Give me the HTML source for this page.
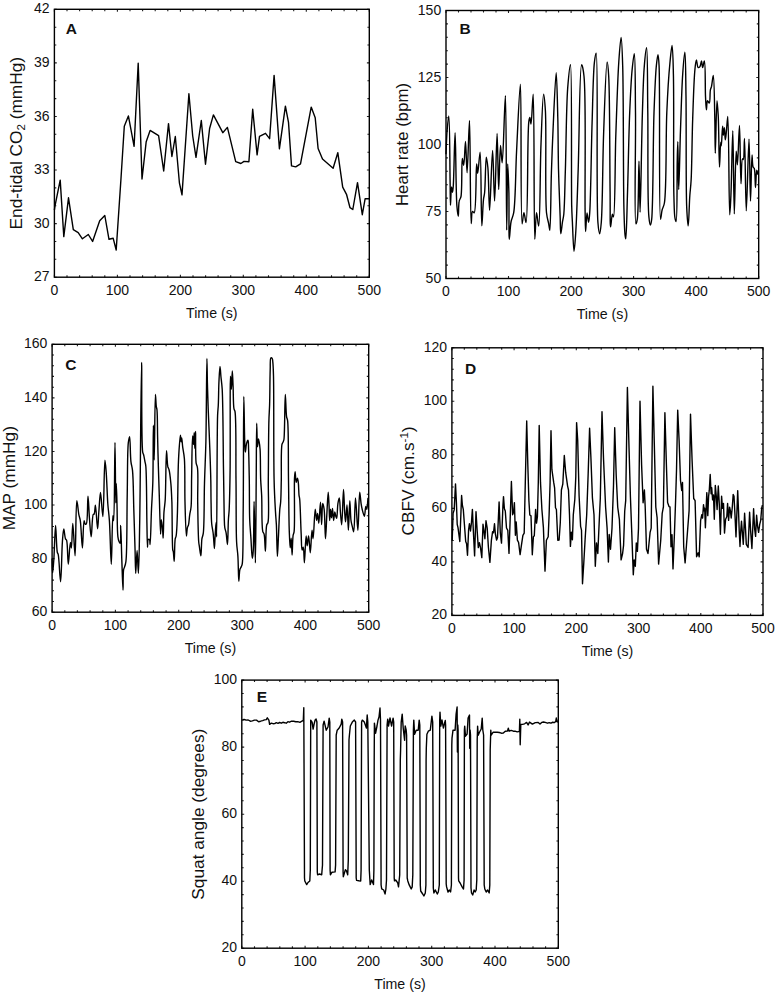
<!DOCTYPE html><html><head><meta charset="utf-8"><style>html,body{margin:0;padding:0;background:#fff;overflow:hidden;}svg{display:block;}text{font-family:"Liberation Sans",sans-serif;fill:#111;}</style></head><body>
<svg width="775" height="994" viewBox="0 0 775 994">
<rect width="775" height="994" fill="#fff"/>
<g><path d="M54.4 277.2v-2.4M54.4 9.3v2.4M67 277.2v-1.9M67 9.3v1.9M79.6 277.2v-1.9M79.6 9.3v1.9M92.2 277.2v-1.9M92.2 9.3v1.9M104.8 277.2v-1.9M104.8 9.3v1.9M117.4 277.2v-2.4M117.4 9.3v2.4M130 277.2v-1.9M130 9.3v1.9M142.6 277.2v-1.9M142.6 9.3v1.9M155.2 277.2v-1.9M155.2 9.3v1.9M167.8 277.2v-1.9M167.8 9.3v1.9M180.4 277.2v-2.4M180.4 9.3v2.4M193 277.2v-1.9M193 9.3v1.9M205.6 277.2v-1.9M205.6 9.3v1.9M218.1 277.2v-1.9M218.1 9.3v1.9M230.7 277.2v-1.9M230.7 9.3v1.9M243.3 277.2v-2.4M243.3 9.3v2.4M255.9 277.2v-1.9M255.9 9.3v1.9M268.5 277.2v-1.9M268.5 9.3v1.9M281.1 277.2v-1.9M281.1 9.3v1.9M293.7 277.2v-1.9M293.7 9.3v1.9M306.3 277.2v-2.4M306.3 9.3v2.4M318.9 277.2v-1.9M318.9 9.3v1.9M331.5 277.2v-1.9M331.5 9.3v1.9M344.1 277.2v-1.9M344.1 9.3v1.9M356.7 277.2v-1.9M356.7 9.3v1.9M369.3 277.2v-2.4M369.3 9.3v2.4M54.4 277.2h2.4M369.3 277.2h-2.4M54.4 259.3h1.9M369.3 259.3h-1.9M54.4 241.5h1.9M369.3 241.5h-1.9M54.4 223.6h2.4M369.3 223.6h-2.4M54.4 205.8h1.9M369.3 205.8h-1.9M54.4 187.9h1.9M369.3 187.9h-1.9M54.4 170h2.4M369.3 170h-2.4M54.4 152.2h1.9M369.3 152.2h-1.9M54.4 134.3h1.9M369.3 134.3h-1.9M54.4 116.5h2.4M369.3 116.5h-2.4M54.4 98.6h1.9M369.3 98.6h-1.9M54.4 80.7h1.9M369.3 80.7h-1.9M54.4 62.9h2.4M369.3 62.9h-2.4M54.4 45h1.9M369.3 45h-1.9M54.4 27.2h1.9M369.3 27.2h-1.9M54.4 9.3h2.4M369.3 9.3h-2.4" stroke="#222" stroke-width="1.1" fill="none"/><path d="M54.4,210.2 55,205.8 60.2,180.1 63.8,236.6 68.5,197.8 73.3,229.7 78.2,232.6 82.4,238.8 88.3,234.5 92.6,241.4 99.7,220.7 104.8,215.5 109,239.3 113.2,238.3 116.2,250 121,178.4 124.3,126.2 128.4,115.9 134.1,146.3 138.2,63.3 142,179 146.2,141.7 150.1,130.4 158.6,135.7 163.7,171 168.5,123.6 171.9,156.5 175.3,136.5 179.4,182.8 182,194.9 188.9,93.8 192.7,136 196,157.4 201.3,120.5 205.5,164.2 209.6,128.5 213.4,114.9 222.8,132.7 227.4,127.4 235.7,161.7 240.9,163.5 244,161.4 248.9,161.7 252.7,109.2 257.1,154.9 259.5,136.3 265.5,133.3 269.6,138.7 274.1,75.4 279.4,148.8 285.4,106.1 288.5,122.4 291.5,165.9 295.7,166.9 300.5,163.9 311.2,107.1 315.2,117.7 318.1,148.5 322.5,159 333.1,168.2 337.8,152.7 342.7,187.2 346.5,194.3 350,207.7 352.8,209.5 357.5,182.7 362.3,214.7 365.1,198.8 369,198.8" stroke="#000" stroke-width="1.4" fill="none" stroke-linejoin="round"/><rect x="54.4" y="9.3" width="314.9" height="267.9" fill="none" stroke="#000" stroke-width="1.4"/><text x="54.4" y="294.5" font-size="14" text-anchor="middle">0</text><text x="117.4" y="294.5" font-size="14" text-anchor="middle">100</text><text x="180.4" y="294.5" font-size="14" text-anchor="middle">200</text><text x="243.3" y="294.5" font-size="14" text-anchor="middle">300</text><text x="306.3" y="294.5" font-size="14" text-anchor="middle">400</text><text x="369.3" y="294.5" font-size="14" text-anchor="middle">500</text><text x="49.6" y="281.2" font-size="14" text-anchor="end">27</text><text x="49.6" y="227.6" font-size="14" text-anchor="end">30</text><text x="49.6" y="174" font-size="14" text-anchor="end">33</text><text x="49.6" y="120.5" font-size="14" text-anchor="end">36</text><text x="49.6" y="66.9" font-size="14" text-anchor="end">39</text><text x="49.6" y="13.3" font-size="14" text-anchor="end">42</text><text x="211.8" y="318.1" font-size="14.2" text-anchor="middle">Time (s)</text><text transform="translate(21.7 143.2) rotate(-90)" font-size="17.3" text-anchor="middle">End-tidal CO<tspan baseline-shift="-25%" font-size="11.5">2</tspan> (mmHg)</text><text x="65.7" y="34.4" font-size="15.5" font-weight="bold">A</text></g>
<g><path d="M446 278.5v-2.4M446 10.5v2.4M458.5 278.5v-1.9M458.5 10.5v1.9M471 278.5v-1.9M471 10.5v1.9M483.5 278.5v-1.9M483.5 10.5v1.9M496 278.5v-1.9M496 10.5v1.9M508.5 278.5v-2.4M508.5 10.5v2.4M521 278.5v-1.9M521 10.5v1.9M533.6 278.5v-1.9M533.6 10.5v1.9M546.1 278.5v-1.9M546.1 10.5v1.9M558.6 278.5v-1.9M558.6 10.5v1.9M571.1 278.5v-2.4M571.1 10.5v2.4M583.6 278.5v-1.9M583.6 10.5v1.9M596.1 278.5v-1.9M596.1 10.5v1.9M608.6 278.5v-1.9M608.6 10.5v1.9M621.1 278.5v-1.9M621.1 10.5v1.9M633.6 278.5v-2.4M633.6 10.5v2.4M646.1 278.5v-1.9M646.1 10.5v1.9M658.6 278.5v-1.9M658.6 10.5v1.9M671.1 278.5v-1.9M671.1 10.5v1.9M683.7 278.5v-1.9M683.7 10.5v1.9M696.2 278.5v-2.4M696.2 10.5v2.4M708.7 278.5v-1.9M708.7 10.5v1.9M721.2 278.5v-1.9M721.2 10.5v1.9M733.7 278.5v-1.9M733.7 10.5v1.9M746.2 278.5v-1.9M746.2 10.5v1.9M758.7 278.5v-2.4M758.7 10.5v2.4M446 278.5h2.4M758.7 278.5h-2.4M446 265.1h1.9M758.7 265.1h-1.9M446 251.7h1.9M758.7 251.7h-1.9M446 238.3h1.9M758.7 238.3h-1.9M446 224.9h1.9M758.7 224.9h-1.9M446 211.5h2.4M758.7 211.5h-2.4M446 198.1h1.9M758.7 198.1h-1.9M446 184.7h1.9M758.7 184.7h-1.9M446 171.3h1.9M758.7 171.3h-1.9M446 157.9h1.9M758.7 157.9h-1.9M446 144.5h2.4M758.7 144.5h-2.4M446 131.1h1.9M758.7 131.1h-1.9M446 117.7h1.9M758.7 117.7h-1.9M446 104.3h1.9M758.7 104.3h-1.9M446 90.9h1.9M758.7 90.9h-1.9M446 77.5h2.4M758.7 77.5h-2.4M446 64.1h1.9M758.7 64.1h-1.9M446 50.7h1.9M758.7 50.7h-1.9M446 37.3h1.9M758.7 37.3h-1.9M446 23.9h1.9M758.7 23.9h-1.9M446 10.5h2.4M758.7 10.5h-2.4" stroke="#222" stroke-width="1.1" fill="none"/><path d="M446,154.3C446.3,146.8 446.5,138.7 447,131.9C447.5,126.1 448.3,116 448.8,116C449.8,116 449.8,165.1 450.1,181.5C450.3,191.4 450.2,205.3 450.5,205.3C450.7,205.3 451,187 451.5,187C451.8,187 452.1,192.4 452.4,192.4C452.7,192.4 452.9,189.7 453.2,187C454,178.3 454.5,132.6 455.1,132.6C455.8,132.6 455.8,192.7 456.9,206C457.3,211 457.9,216.2 458.3,216.2C458.7,216.2 458.4,204.7 459.2,201.2C459.6,199.1 460.5,198.9 461,196.5C462.3,190 461.4,158.5 462.3,158.4C462.7,158.4 463.3,165.2 463.7,165.2C464.5,165.2 465,141.4 465.5,141.4C466.1,141.4 466.5,172.7 467.1,172.7C467.8,172.7 468.9,120.4 469.5,120.4C470.4,120.4 470.1,223.6 471.2,223.6C471.6,223.6 471.4,211.8 472.5,211.4C473,211.2 473.7,213 474.2,212.8C476.5,211.8 475.8,163.9 476.6,163.9C477,163.9 477.3,173.4 477.7,173.4C478.3,173.4 479.5,152.1 480.1,152.1C481.3,152.2 481,225.9 481.8,225.9C482.3,225.9 482.8,205.3 483.5,199.4C483.8,196.5 484.3,195.9 484.6,192.8C485.4,185.7 485.5,157.1 486.3,157.1C486.8,157.1 487.4,163.1 487.9,167.9C488.8,177.4 488.9,210.2 489.6,210.2C490.4,210.2 491.7,150.5 492.6,150.5C493.4,150.5 493.9,201.1 494.6,201.1C495.4,201.1 496.4,133.4 497.1,133.4C497.7,133.4 498.1,189.5 498.7,189.5C499.2,189.5 499.7,145.5 500.5,145.5C501,145.5 501.6,162.9 502.2,162.9C503.3,162.9 504.6,95.8 505.4,95.8C506.5,95.8 506.2,230.1 506.7,230.1C507,230.1 507.2,164 507.7,164C508,164 508.6,182.1 508.9,192.8C509.2,206.4 508.7,239.2 509.3,239.2C509.7,239.2 510.1,226.3 511.1,221.5C511.8,218 513,217 513.7,212.7C515.6,201.5 515.5,171.7 516.6,150.7C517.7,128.9 519.5,84.3 520.4,84.3C521.7,84.3 520.3,223.7 522.1,223.8C522.6,223.8 523.2,212.7 523.9,212.7C524.6,212.7 525.5,222.7 526.1,222.6C528.1,222.4 527.2,133.5 528.8,121.9C529.1,119.4 529.6,117.5 529.9,117.5C530.3,117.5 530.6,124.1 531,124.1C531.8,124.1 532.6,94.2 533.2,94.2C534.5,94.2 533.7,239.2 534.8,239.2C535.3,239.2 535.7,212.7 536.5,212.7C537.1,212.7 538.1,226 538.7,226C540.2,225.9 540,168 541,144.1C541.7,125.4 542.6,94.2 543.6,94.2C544.2,94.2 544.9,102.9 545.4,110.8C546.6,130.3 544.8,195.9 546.5,212.7C547.1,218.3 548.1,220.6 548.7,223.8C549.2,226.3 549.5,230.4 549.8,230.4C550.7,230.3 550.8,190.7 551.4,172.8C551.9,157.1 552.4,144.2 553.1,128.6C553.9,111.1 555.4,72.8 556.2,72.8C556.9,72.8 557.4,102.5 557.8,118C558.2,134.5 558.1,152.4 558.5,169C558.9,184.8 559.7,203.3 560.1,215.3C560.4,222.9 560.3,233.8 560.8,233.8C561.2,233.8 561.9,225.8 562.4,222.3C562.9,219.4 563.4,218 563.8,214.2C564.7,205.3 564.8,186.3 565.4,169C566.1,145.9 566.3,106.7 567.7,87.9C568.5,77.8 569.8,64.7 570.5,64.7C572.2,64.8 571.1,182.1 571.7,206C571.9,214.1 572.1,216.1 572.4,222.3C572.8,230.6 573.4,251.2 574,251.2C574.5,251.2 575.3,239.9 575.8,231.5C576.8,216.5 577.4,192.5 578.2,169C579.3,138.7 579.5,64.9 581.6,64.7C582.3,64.6 583.4,70.3 584,76.3C586.2,96.6 584.7,185.4 585.1,210.7C585.3,220.7 585.3,231.5 585.6,231.5C585.9,231.5 586.4,213 587,213C587.4,213 588.1,222.3 588.6,222.3C589,222.3 589.4,217.7 589.7,213C590.8,198.4 591.2,149.8 592.1,122.7C592.8,100.6 593.1,73.7 594.4,62.4C594.9,58 595.7,53.2 596.2,53.2C598.4,53.4 596,199 597.9,222.3C598.4,228.4 599.1,233.8 599.7,233.8C600.3,233.8 600.8,228 601.3,222.3C602.6,206.7 602.6,162.1 603.6,134.2C604.5,108.9 605.9,62 607.1,62C607.6,62 608.3,69.2 608.7,76.3C609.9,96.4 609.7,164.9 610.1,192.2C610.3,207.2 609.9,226.9 610.6,226.9C611,226.9 611.7,214.3 612.4,214.2C612.7,214.2 613.2,217 613.5,216.9C615.2,216.6 614.9,162.2 615.8,135.8C616.7,110.5 617.6,79.7 618.8,61.7C619.5,51.4 620.5,37.4 621.1,37.4C621.8,37.4 622.3,53 622.7,66.3C623.6,95.6 623.2,178.7 623.9,207.6C624.2,220.4 624.5,230.6 625.1,235.4C625.3,237.1 625.6,238.9 625.8,238.9C626.5,238.8 626.9,212.7 627.4,196C628.2,172.8 628.7,135.7 629.7,112.7C630.4,96.4 631,81.9 632,71C632.7,63.9 633.7,53.6 634.3,53.6C635.4,53.7 635.2,89.9 635.5,112.7C635.9,143.9 634,223.5 635.9,223.8C636.3,223.9 636.9,221.6 637.3,219.2C638.7,210.8 638.5,161.3 639,161.3C639.4,161.3 639.7,212.3 640.1,212.3C640.7,212.3 641.5,139.6 642.4,112.7C643,94.3 643.3,78.3 644.3,66.3C644.9,58.7 646,47.8 646.6,47.8C647.7,47.9 647.4,88.5 647.8,112.7C648.2,143.3 647.3,201.8 648.9,216.9C649.3,221.2 650,225 650.5,225C650.9,225 651.3,222.4 651.7,219.2C653.2,205.8 653,140.9 654,112.7C654.7,94.1 655.3,76.6 656.3,66.3C656.8,61.1 657.5,54.7 658,54.7C658.5,54.7 658.8,60.2 659.1,66.3C660.2,88.3 658.7,219.1 660.5,219.2C661,219.2 661.4,212.8 662.1,210C662.7,207.5 663.8,206.7 664.4,203C666.7,190 665.7,138.3 666.8,112.7C667.6,93.7 668.7,75.5 669.9,63.2C670.6,55.8 671.5,45.5 672.1,45.5C672.8,45.5 673.1,61.4 673.4,74.3C674.1,100.8 673.2,171.7 673.9,196C674.2,206.4 674.2,214.1 675,218.2C675.3,219.8 675.8,221.5 676.1,221.5C677.4,221.3 676.9,177.4 677.2,162.8C677.4,154 677.6,141.8 677.8,141.8C678.1,141.8 678.3,189.4 678.7,189.4C679.2,189.4 679.8,149.1 680.5,129.6C681.2,110.8 681.7,88.6 682.7,74.3C683.3,65.2 684.4,52.1 684.9,52.1C685.7,52.1 685.7,78.3 686,96.4C686.4,125 685.8,185.6 686.7,207.1C687.1,216 687.7,225.9 688.2,225.9C688.8,225.9 689.2,204.3 689.8,196C690.2,190 690.7,187.4 691.1,180.5C691.9,166.7 692,138 692.7,118.6C693.3,101.4 693.9,79.9 694.9,69.8C695.3,65.2 695.8,59.9 696.4,59.9C696.9,59.9 697.2,67.2 698.2,67.6C698.7,67.8 699.5,67.1 700,66.5C700.8,65.4 701.1,61 701.5,61C702,61 702.1,67.6 702.6,67.6C703.1,67.6 703.9,60.9 704.4,61C705.5,61.1 705.1,87.4 705.5,96.4C705.8,101.9 706,109.7 706.4,109.7C706.7,109.7 706.7,101 707.5,100.8C708,100.7 708.8,103.2 709.3,103.1C710.3,102.8 709.8,92.7 710.4,89.8C710.7,88.3 711.1,87.9 711.5,86.5C712.1,83.9 712.8,75.4 713.3,75.4C714.2,75.5 714.5,105 714.8,118.6C715.1,130.8 715,153.2 715.3,153.2C715.7,153.2 716.3,100.6 717,100.6C717.4,100.6 717.9,110.2 718.3,117.2C718.9,129.4 719,167.1 719.5,167.1C719.9,167.1 720.2,142.1 720.7,142.1C720.9,142.1 721.1,145.9 721.3,145.9C721.7,145.9 722.2,126.3 722.6,126.3C722.9,126.3 723,135.3 723.3,135.3C723.6,135.3 724.1,127.8 724.4,127.8C724.8,127.8 724.9,139.9 725.3,139.9C725.6,139.9 726,135.3 726.3,132.3C726.8,128 727.4,116.4 727.8,116.4C728.9,116.4 728.9,214.7 729.7,214.7C730.1,214.7 730.5,204 730.9,195.8C731.6,180.6 732.3,130.8 732.8,130.8C733.4,130.8 733.7,213.9 734.3,213.9C734.8,213.9 735.4,151.2 736.2,151.2C736.6,151.2 737,164.8 737.4,164.8C738.1,164.8 738.9,125.5 739.5,125.5C740.2,125.5 740.3,183.7 741,183.7C741.4,183.7 741.3,159.3 742.5,158.8C742.7,158.7 743.1,159.6 743.3,159.5C744.3,159.1 744.1,138.4 744.5,138.4C745.2,138.4 745.5,210.9 746.3,210.9C747,210.9 748.3,139.1 749,139.1C749.7,139.1 750,201.1 750.5,201.1C751,201.1 751.4,155 752,155C752.3,155 752.3,165.1 753.1,167.1C753.4,167.9 754,167.7 754.3,168.6C755.3,171.3 755.1,187.5 755.5,187.5C755.9,187.5 756.1,170.2 756.7,170.1C757,170.1 757.4,173.1 757.8,174.6" stroke="#000" stroke-width="1.4" fill="none" stroke-linejoin="round"/><rect x="446" y="10.5" width="312.7" height="268" fill="none" stroke="#000" stroke-width="1.4"/><text x="446" y="295.8" font-size="14" text-anchor="middle">0</text><text x="508.5" y="295.8" font-size="14" text-anchor="middle">100</text><text x="571.1" y="295.8" font-size="14" text-anchor="middle">200</text><text x="633.6" y="295.8" font-size="14" text-anchor="middle">300</text><text x="696.2" y="295.8" font-size="14" text-anchor="middle">400</text><text x="758.7" y="295.8" font-size="14" text-anchor="middle">500</text><text x="441.2" y="282.5" font-size="14" text-anchor="end">50</text><text x="441.2" y="215.5" font-size="14" text-anchor="end">75</text><text x="441.2" y="148.5" font-size="14" text-anchor="end">100</text><text x="441.2" y="81.5" font-size="14" text-anchor="end">125</text><text x="441.2" y="14.5" font-size="14" text-anchor="end">150</text><text x="602.4" y="319.4" font-size="14.2" text-anchor="middle">Time (s)</text><text transform="translate(408 144.5) rotate(-90)" font-size="16.8" text-anchor="middle">Heart rate (bpm)</text><text x="459.4" y="33.5" font-size="15.5" font-weight="bold">B</text></g>
<g><path d="M52.1 612.2v-2.4M52.1 344.3v2.4M64.8 612.2v-1.9M64.8 344.3v1.9M77.4 612.2v-1.9M77.4 344.3v1.9M90.1 612.2v-1.9M90.1 344.3v1.9M102.8 612.2v-1.9M102.8 344.3v1.9M115.4 612.2v-2.4M115.4 344.3v2.4M128.1 612.2v-1.9M128.1 344.3v1.9M140.7 612.2v-1.9M140.7 344.3v1.9M153.4 612.2v-1.9M153.4 344.3v1.9M166.1 612.2v-1.9M166.1 344.3v1.9M178.7 612.2v-2.4M178.7 344.3v2.4M191.4 612.2v-1.9M191.4 344.3v1.9M204.1 612.2v-1.9M204.1 344.3v1.9M216.7 612.2v-1.9M216.7 344.3v1.9M229.4 612.2v-1.9M229.4 344.3v1.9M242.1 612.2v-2.4M242.1 344.3v2.4M254.7 612.2v-1.9M254.7 344.3v1.9M267.4 612.2v-1.9M267.4 344.3v1.9M280.1 612.2v-1.9M280.1 344.3v1.9M292.7 612.2v-1.9M292.7 344.3v1.9M305.4 612.2v-2.4M305.4 344.3v2.4M318 612.2v-1.9M318 344.3v1.9M330.7 612.2v-1.9M330.7 344.3v1.9M343.4 612.2v-1.9M343.4 344.3v1.9M356 612.2v-1.9M356 344.3v1.9M368.7 612.2v-2.4M368.7 344.3v2.4M52.1 612.2h2.4M368.7 612.2h-2.4M52.1 601.5h1.9M368.7 601.5h-1.9M52.1 590.8h1.9M368.7 590.8h-1.9M52.1 580.1h1.9M368.7 580.1h-1.9M52.1 569.3h1.9M368.7 569.3h-1.9M52.1 558.6h2.4M368.7 558.6h-2.4M52.1 547.9h1.9M368.7 547.9h-1.9M52.1 537.2h1.9M368.7 537.2h-1.9M52.1 526.5h1.9M368.7 526.5h-1.9M52.1 515.8h1.9M368.7 515.8h-1.9M52.1 505h2.4M368.7 505h-2.4M52.1 494.3h1.9M368.7 494.3h-1.9M52.1 483.6h1.9M368.7 483.6h-1.9M52.1 472.9h1.9M368.7 472.9h-1.9M52.1 462.2h1.9M368.7 462.2h-1.9M52.1 451.5h2.4M368.7 451.5h-2.4M52.1 440.7h1.9M368.7 440.7h-1.9M52.1 430h1.9M368.7 430h-1.9M52.1 419.3h1.9M368.7 419.3h-1.9M52.1 408.6h1.9M368.7 408.6h-1.9M52.1 397.9h2.4M368.7 397.9h-2.4M52.1 387.2h1.9M368.7 387.2h-1.9M52.1 376.4h1.9M368.7 376.4h-1.9M52.1 365.7h1.9M368.7 365.7h-1.9M52.1 355h1.9M368.7 355h-1.9M52.1 344.3h2.4M368.7 344.3h-2.4" stroke="#222" stroke-width="1.1" fill="none"/><path d="M52.1,558.6C52.2,563.3 52.2,572.7 52.5,572.7C52.7,572.7 52.9,570.2 53.1,568.5C53.4,565.9 53.6,562.9 53.9,558.6C54.4,550.8 55,525.5 55.6,525.5C56.1,525.5 56.4,548.4 57.3,552.3C57.6,553.4 57.9,553.3 58.2,554.4C59.2,558.3 59.9,581.8 60.6,581.8C61.4,581.8 61.7,551.3 62.4,541.7C62.8,536.3 63.2,529 63.8,529C64.3,529 64.7,537.1 65.5,538.9C65.8,539.6 66.3,539.5 66.6,540.3C67.8,543.4 67.6,564.2 68.3,564.2C68.9,564.2 69.7,542.4 70.4,542.4C70.7,542.4 71.1,548 71.4,548C72,548 72.2,523.4 72.8,523.4C73.4,523.4 74.5,555.8 75.1,555.8C75.9,555.8 75.7,500.9 76.8,500.8C77.4,500.8 78.2,511.3 78.9,514.9C79.4,517.2 79.9,518 80.3,520.6C81.2,526.3 81.8,548 82.4,548C83,548 83.2,520.7 84.1,520.6C84.4,520.6 84.6,523.7 85.2,524.1C85.5,524.3 86,524.4 86.3,524.1C87.9,522.6 87.4,496.3 88,496.3C88.5,496.3 88.9,511.9 89.5,519C90,525.3 90.6,536.8 91.2,536.8C91.9,536.8 92,515.4 93.3,514.2C93.5,514 93.9,514.4 94.1,514.2C94.9,513.5 95,505.3 95.4,505.3C96.1,505.3 97,528.7 97.6,528.7C98.1,528.7 98.4,517 98.9,511C99.4,504.9 99.9,492.4 100.5,492.4C101.2,492.4 102.2,516.6 102.9,516.6C103.9,516.6 104.1,460.2 104.9,460.2C105.3,460.2 105.8,467.3 106.2,472.3C106.8,480.3 107.2,494.8 107.8,503.7C108.3,510.2 108.9,513.6 109.4,520.6C110.2,531.7 110.7,564.2 111.3,564.2C111.9,564.2 112.1,515.9 112.9,515.8C113.1,515.8 113.5,520.6 113.7,520.6C114.6,520.5 114.6,442.4 115,442.4C115.3,442.4 115.5,502.9 115.8,502.9C116,502.9 116.1,483.5 116.3,483.5C116.5,483.5 116.8,496.7 117,504.5C117.3,514.1 117.1,530.8 117.9,536.8C118.2,539.1 118.6,540.5 119.1,541.6C119.4,542.3 119.9,543.3 120.2,543.2C121.1,542.9 120.5,525.5 120.7,525.5C121,525.5 121.4,548.4 121.8,559.4C122.2,569.9 122.7,590 123,590C123.3,590 122.9,573.1 123.6,569.5C123.9,568.2 124.3,567.9 124.6,566.9C125.1,565.5 125.5,564.4 125.9,561.6C127.2,552 126.8,516.9 127.2,496.2C127.6,477.5 127.3,452 128.3,442.9C128.7,439.8 129.2,436.6 129.6,436.6C130.3,436.7 130.2,455.1 130.9,461.3C131.3,465.1 132.1,466.3 132.5,470.4C133.4,478.8 133.4,496.1 133.8,509.3C134.2,523 134.8,539.4 135.1,551.2C135.3,559.8 135.4,573.4 135.7,573.4C136,573.4 136.6,550.5 137.1,550.5C137.5,550.5 138,573.4 138.4,573.4C139,573.4 139.3,544.1 139.7,522.4C140.4,483.9 141,362.4 141.6,362.4C142,362.4 141.2,443.4 142.7,452.1C143,453.6 143.3,453.6 143.6,454.7C144.1,456.4 144.5,459.3 144.9,461.3C145.2,463 145.5,463.6 145.8,466C146.7,474.4 146.6,507.4 146.9,522.4C147.1,532.3 147.2,547.2 147.5,547.2C147.7,547.2 147.4,540.2 148.2,539.4C148.5,539.1 149.2,539.1 149.5,539.4C150.1,540 149.9,544.6 150.1,544.6C150.6,544.6 151,520.2 151.5,509.3C151.9,499.9 152.5,493.5 152.8,483.1C153.3,467.6 153.1,425.3 153.4,425.3C153.6,425.3 153.9,460 154.2,460C154.6,460 154.8,394.5 155.4,394.5C155.7,394.5 155.9,403.5 156.3,406.3C156.5,407.9 156.8,408.2 157,410C157.5,414.8 157.4,427.2 157.6,436.4C157.8,446.4 158.1,457.6 158.4,467.8C158.7,477.5 159,486.1 159.3,496.2C159.7,507.9 160.2,534.1 160.6,534.1C160.8,534.1 160.9,519.7 161.3,519.7C161.6,519.7 162.3,526.9 162.6,530.2C162.9,533 163,538.1 163.2,538.1C163.5,538.1 163.5,520.2 163.9,513.2C164.2,508.1 164.8,505.9 165.2,500.1C165.9,488.9 165.9,450.8 166.5,450.8C166.9,450.8 167.1,463.2 167.8,466.5C168.2,468.1 168.7,468.4 169.1,470C169.9,473.1 170.4,478.9 170.9,483.9C171.4,489.6 171.6,494.7 171.9,502.3C172.3,514.5 172,545.5 172.8,550.1C172.9,550.9 173.1,550.8 173.3,551.5C173.7,553.3 173.9,561.4 174.2,561.4C174.6,561.4 174.5,542.8 175.2,538.9C175.5,537.5 175.8,537.5 176.1,536.1C176.8,532.5 177,524.6 177.3,516.3C177.9,502.4 177.8,475.1 178.5,460.2C179,450.2 179.9,435.3 180.4,435.3C180.7,435.3 180.9,441.9 181.1,441.9C181.3,441.9 181.5,438 181.7,438C182,438 182.3,443.9 182.7,447.1C183.2,450.8 184,453.7 184.4,458.9C185.2,468.8 184.6,488.7 185,502.3C185.3,514.3 185.8,536.1 186.4,536.1C186.7,536.1 186.9,529.6 187.4,527.6C187.7,526.4 188.2,526 188.5,524.8C189.1,522.5 189.2,518.1 189.7,514.9C190.1,512 190.8,510.1 191.1,506.5C191.7,499.9 191.4,488.8 191.6,478.5C191.9,465.8 192,436 192.6,436C192.9,436 193.2,444.5 193.5,444.5C193.8,444.5 194,432.7 194.2,432.7C194.4,432.7 194.6,448.4 194.8,448.4C195,448.4 195.3,431.4 195.5,431.4C195.8,431.4 195.3,456.7 196.1,462.8C196.5,465.3 197.2,465.5 197.5,468.1C198.4,474.5 197.5,490.5 197.7,502.3C197.9,515 198.1,534.5 198.7,541.7C198.9,544.4 199.2,545.2 199.5,547.3C199.9,549.8 200.5,555.8 200.9,555.8C201.4,555.8 201.3,543 201.9,538.9C202.3,536.5 202.9,536.1 203.3,533.2C204.4,524.8 204,499 204.5,483.1C204.9,468.6 205.5,457.8 205.9,441.6C206.4,418.7 206.6,358.5 206.9,358.5C207.1,358.5 207.2,374.5 207.4,382.7C207.6,391.3 207.9,399.3 208.2,408.9C208.6,420.7 209.4,435.8 209.8,448.2C210.2,459.4 210.6,470.2 210.8,480.1C211,488.6 210.9,496.4 211.1,504C211.2,510.9 211.2,518.4 211.7,523.7C212,527.3 212.8,530 213.1,532.8C213.4,535.2 213.5,537 213.7,539.4C213.9,542.2 214.2,548.5 214.4,548.5C214.6,548.5 214.8,541.9 215,538.1C215.3,533.4 215.8,522.4 216.1,522.4C216.4,522.4 216.4,536.8 216.6,536.8C217,536.8 216.9,433.7 217.6,415.4C217.8,410 218.1,409.1 218.3,405C218.6,399 218.6,389.5 218.9,382.7C219.2,376.8 219.6,366.4 220,366.4C220.3,366.4 220.6,372.7 220.9,376.2C221.3,380.3 221.8,383.1 222.2,389.3C223.1,404.7 223.1,446.9 223.5,470C223.8,487.4 223.9,505.5 224.2,515.8C224.4,521 224.3,524.5 224.8,527.6C225.1,529.7 225.7,530.7 226.1,532.8C226.7,535.9 227.1,544.6 227.5,544.6C228,544.6 228,526.2 228.4,519.7C228.6,515.5 229,513.9 229.2,509.3C229.6,500.4 229.9,485.9 230.1,470C230.4,445.4 229.9,376.2 230.5,376.2C230.7,376.2 231.1,389.3 231.4,389.3C231.7,389.3 232,370.9 232.3,370.9C232.6,370.9 232.8,380.9 233.1,386.6C233.4,393.4 233.2,405.1 234,408.9C234.3,410.2 234.7,410 235,411.5C236.4,418.9 235.7,457.8 236,480.1C236.3,501.3 235.9,528.6 236.6,542C236.9,548.5 237.6,550.9 237.9,556.4C238.4,563.6 238.4,581.3 238.8,581.3C239.1,581.3 239.2,572 239.9,569.5C240.2,568.3 240.8,567.8 241.2,566.9C241.6,566 241.9,565.7 242.2,564.2C243.4,557.6 242.9,530.9 243.2,509.3C243.6,478.4 243.4,396.5 243.8,396.5C244.1,396.5 244.4,438.7 244.9,446.9C245.1,449.5 245.2,452.1 245.4,452.1C245.7,452.1 245.8,446.3 246.4,444.2C246.8,442.6 247.6,440.2 248,440.3C248.6,440.4 248.4,445.5 248.6,449.5C248.9,456.7 249.1,469.2 249.3,480.1C249.5,492.4 249.3,508.8 249.7,519.7C250,527.4 250.6,532.9 251,539.4C251.4,545.8 251.8,558.4 252.3,558.4C252.6,558.4 253,554.7 253.2,551.2C253.9,542.1 253.8,501.4 254.1,501.4C254.5,501.4 255.1,562.9 255.4,562.9C255.8,562.9 256,505.1 256.2,480.1C256.4,459.4 256.4,423.3 256.7,423.3C256.9,423.3 257.1,446.9 257.5,446.9C257.7,446.9 258,439 258.4,439C258.6,439 258.9,440.5 259.1,441.6C259.5,443.5 259.8,446 260.1,449.5C260.6,456.4 260.3,471.5 260.7,480.1C261,486.3 261.4,489.8 261.7,496.2C262.1,505.7 261.5,526.5 262.8,531.5C263.2,532.9 263.7,532.8 264.1,534.1C265,537.3 265,551.2 265.4,551.2C265.9,551.2 265.6,529.1 266.7,525C267.1,523.6 267.7,523.9 268,522.4C269.3,516.9 268.2,495.4 268.3,480.1C268.5,462 268.5,434.1 268.9,420.7C269.1,413.8 269.4,411.3 269.6,405C269.9,395.6 269.9,378.2 270.2,369.6C270.4,364.6 269.9,358.5 270.9,357.9C271.2,357.7 271.9,358.1 272.2,358.5C272.7,359.1 272.6,360.3 272.8,361.8C273.2,364.9 273.3,369.2 273.5,376.2C274,395 273.5,455.4 274.1,480.1C274.4,493.8 275,503.6 275.5,511.9C275.8,517.2 276.1,519.7 276.4,525C276.8,533.2 277,556.4 277.4,556.4C277.7,556.4 278.1,542.8 278.5,535.4C278.9,527.2 279.3,515.5 279.8,509.3C280.1,505.9 280.5,504.7 280.7,501.4C281.1,496 281.1,488.1 281.3,480.1C281.5,469.7 280.8,449.2 282,444.2C282.4,442.8 283,442.5 283.3,441.6C283.6,440.7 283.8,440.4 284,439C284.8,433.2 284.8,394.5 285.3,394.5C285.7,394.5 285.9,412.4 286.6,416.8C286.9,418.7 287.3,418.6 287.6,420.7C288.7,428.8 288.2,461.3 288.5,480.1C288.8,497.2 288.8,516.4 289.2,528.9C289.5,536.7 289.8,547.9 290.2,547.9C290.5,547.9 290.9,538.1 291.2,538.1C291.6,538.1 291.8,555.1 292.1,555.1C292.4,555.1 292.5,539.4 293.1,535.4C293.4,533.7 293.8,533.7 294.1,531.7C295.1,524.3 294,487.4 294.5,478.2C294.7,475 294.9,471.8 295.1,471.8C295.4,471.8 295.7,482.4 296.2,482.4C296.5,482.4 297,478.2 297.4,478.2C297.7,478.2 298.1,480.6 298.3,482.4C298.7,485.5 298.7,492 299,495.1C299.2,496.9 299.5,497.2 299.7,499.3C300.3,505.3 300.7,525.1 301.2,534.5C301.5,540.7 301.4,549.9 302.1,550C302.4,550.1 303,547.1 303.3,547.2C304,547.3 304,562.7 304.4,562.7C304.9,562.7 305.5,535.9 306.1,535.9C306.5,535.9 306.8,545.8 307.2,545.8C307.6,545.8 308.1,535.9 308.6,535.9C309.2,535.9 309.8,552.8 310.3,552.8C310.9,552.8 311.4,530.3 312,530.3C312.4,530.3 312.7,538.7 313.1,538.7C313.8,538.7 314.5,509.2 315.2,509.2C315.7,509.2 316.2,520.4 316.6,520.4C316.9,520.4 317.3,513.4 317.6,513.4C318,513.4 318.4,523.2 318.8,523.2C319.4,523.2 320,502.1 320.5,502.1C321,502.1 321.2,524.6 321.6,524.6C322,524.6 322,503.6 322.7,503.5C323.1,503.5 323.7,506.5 324.1,509.2C325,515.2 325,538.7 325.5,538.7C326,538.7 326.4,521.5 326.9,513.4C327.3,506 327.8,492.3 328.2,492.3C328.5,492.3 328.8,501.7 329.1,506.4C329.3,511.1 329.4,520.5 329.7,520.5C329.9,520.5 330.2,509.2 330.5,509.2C330.8,509.2 331.2,517.7 331.5,517.7C331.8,517.7 332.2,508.5 332.5,508.5C332.9,508.5 333.2,520.5 333.6,520.5C334,520.5 334.4,512 334.8,512C335.1,512 335.4,515 335.8,516.2C336.1,517.1 336.4,518.4 336.7,518.4C337.3,518.3 337.3,507.4 337.9,503.6C338.3,501.2 338.9,497.9 339.3,497.9C339.9,497.9 340,507.4 340.4,512C340.8,516.3 341.3,524.7 341.7,524.7C342.4,524.7 343,489.5 343.5,489.5C343.9,489.5 344.2,504.7 344.6,510.6C344.9,515 345.2,521.9 345.6,521.9C346,521.9 346.6,505 347,505C347.5,505 348,530.3 348.4,530.3C348.9,530.3 349.3,500.7 349.8,500.7C350.2,500.7 350.4,515.9 351,520.5C351.3,523 351.8,524.2 352.2,526.1C352.7,528 353.3,531.7 353.7,531.7C354.7,531.6 354.8,497.9 355.5,497.9C356.2,497.9 357.2,530.3 357.9,530.3C358.6,530.3 358.9,492.3 359.7,492.3C360.1,492.3 360.6,500.3 361.1,503.6C361.5,506.2 361.9,508.4 362.5,510.6C363,512.6 363.9,516.2 364.4,516.2C365.1,516.1 365.2,506.5 365.8,506.4C366.1,506.4 366.5,509.2 366.8,509.2C367.4,509.1 367.6,501.7 368,497.9" stroke="#000" stroke-width="1.4" fill="none" stroke-linejoin="round"/><rect x="52.1" y="344.3" width="316.6" height="267.9" fill="none" stroke="#000" stroke-width="1.4"/><text x="52.1" y="629.5" font-size="14" text-anchor="middle">0</text><text x="115.4" y="629.5" font-size="14" text-anchor="middle">100</text><text x="178.7" y="629.5" font-size="14" text-anchor="middle">200</text><text x="242.1" y="629.5" font-size="14" text-anchor="middle">300</text><text x="305.4" y="629.5" font-size="14" text-anchor="middle">400</text><text x="368.7" y="629.5" font-size="14" text-anchor="middle">500</text><text x="47.3" y="616.2" font-size="14" text-anchor="end">60</text><text x="47.3" y="562.6" font-size="14" text-anchor="end">80</text><text x="47.3" y="509" font-size="14" text-anchor="end">100</text><text x="47.3" y="455.5" font-size="14" text-anchor="end">120</text><text x="47.3" y="401.9" font-size="14" text-anchor="end">140</text><text x="47.3" y="348.3" font-size="14" text-anchor="end">160</text><text x="210.4" y="653.1" font-size="14.2" text-anchor="middle">Time (s)</text><text transform="translate(14.9 478.2) rotate(-90)" font-size="17.3" text-anchor="middle">MAP (mmHg)</text><text x="65.2" y="370.1" font-size="15.5" font-weight="bold">C</text></g>
<g><path d="M451.9 615.4v-2.4M451.9 347.8v2.4M464.3 615.4v-1.9M464.3 347.8v1.9M476.8 615.4v-1.9M476.8 347.8v1.9M489.2 615.4v-1.9M489.2 347.8v1.9M501.7 615.4v-1.9M501.7 347.8v1.9M514.1 615.4v-2.4M514.1 347.8v2.4M526.6 615.4v-1.9M526.6 347.8v1.9M539 615.4v-1.9M539 347.8v1.9M551.5 615.4v-1.9M551.5 347.8v1.9M563.9 615.4v-1.9M563.9 347.8v1.9M576.3 615.4v-2.4M576.3 347.8v2.4M588.8 615.4v-1.9M588.8 347.8v1.9M601.2 615.4v-1.9M601.2 347.8v1.9M613.7 615.4v-1.9M613.7 347.8v1.9M626.1 615.4v-1.9M626.1 347.8v1.9M638.6 615.4v-2.4M638.6 347.8v2.4M651 615.4v-1.9M651 347.8v1.9M663.4 615.4v-1.9M663.4 347.8v1.9M675.9 615.4v-1.9M675.9 347.8v1.9M688.3 615.4v-1.9M688.3 347.8v1.9M700.8 615.4v-2.4M700.8 347.8v2.4M713.2 615.4v-1.9M713.2 347.8v1.9M725.7 615.4v-1.9M725.7 347.8v1.9M738.1 615.4v-1.9M738.1 347.8v1.9M750.6 615.4v-1.9M750.6 347.8v1.9M763 615.4v-2.4M763 347.8v2.4M451.9 615.4h2.4M763 615.4h-2.4M451.9 604.7h1.9M763 604.7h-1.9M451.9 594h1.9M763 594h-1.9M451.9 583.3h1.9M763 583.3h-1.9M451.9 572.6h1.9M763 572.6h-1.9M451.9 561.9h2.4M763 561.9h-2.4M451.9 551.2h1.9M763 551.2h-1.9M451.9 540.5h1.9M763 540.5h-1.9M451.9 529.8h1.9M763 529.8h-1.9M451.9 519.1h1.9M763 519.1h-1.9M451.9 508.4h2.4M763 508.4h-2.4M451.9 497.7h1.9M763 497.7h-1.9M451.9 487h1.9M763 487h-1.9M451.9 476.2h1.9M763 476.2h-1.9M451.9 465.5h1.9M763 465.5h-1.9M451.9 454.8h2.4M763 454.8h-2.4M451.9 444.1h1.9M763 444.1h-1.9M451.9 433.4h1.9M763 433.4h-1.9M451.9 422.7h1.9M763 422.7h-1.9M451.9 412h1.9M763 412h-1.9M451.9 401.3h2.4M763 401.3h-2.4M451.9 390.6h1.9M763 390.6h-1.9M451.9 379.9h1.9M763 379.9h-1.9M451.9 369.2h1.9M763 369.2h-1.9M451.9 358.5h1.9M763 358.5h-1.9M451.9 347.8h2.4M763 347.8h-2.4" stroke="#222" stroke-width="1.1" fill="none"/><path d="M452.2,540.4 453.1,513.2 454.2,509.9 455.5,483.9 456.4,502.2 457.2,524.3 458,527.6 459.8,541.5 460.5,524.3 461.6,495.5 462.4,505.5 463.3,509.4 464.4,524.3 465.7,541.5 466.6,543.7 467.5,555.3 468.6,529.9 469.4,523.8 470.5,531 471.4,523.2 472.4,509.4 473.3,529.9 474.6,555.9 476,511.6 477.1,529.9 478.3,547.6 479.4,542.6 480.5,547.6 481.8,557.6 483,524.3 483.8,529.9 484.9,538.7 486,520.8 487.2,528 488.4,547.3 489.9,562.4 491.4,540.1 492.6,531.6 493.5,532.8 494.5,523.8 495.4,534 496.6,540.1 497.5,537.7 499.1,502 500.3,532.8 501.5,543.1 502.9,506.3 503.5,496.6 504.4,508.7 505.3,511.1 506.5,528 507.8,530.4 509,553.4 510.2,518.3 511.4,481.5 512.6,514.7 513.6,512.3 514.4,502.6 515.4,535.3 516.2,522 517.4,540.1 518.6,542.5 520.1,554.6 521.3,546.1 522.9,535.3 524.2,533.1 525.3,482.4 526.7,420.9 527.8,464.3 528.9,500.5 529.8,515 531,515.9 532.3,554.8 533.4,536.7 534.3,535.8 535.6,509.5 536.5,523.1 537.4,516.8 538.3,482.4 539.2,425.4 540.5,482.4 541.9,509.5 543.4,527.6 545,571.1 546.4,540.3 548.2,536.7 549.1,515 550.1,482.4 551,430.8 551.9,469.7 553.7,482.4 554.6,487.8 555.5,507.7 556.4,509.5 557.8,540.3 559.1,540 560.3,522.5 561.4,490 562.8,484.2 564.3,455.5 565.7,472.7 567.6,486.1 568.5,490 569.5,514.8 570.4,546.4 571.4,532.1 572.4,539.7 573.3,514.8 574.8,499.5 575.8,476.6 576.6,422.6 577.7,440.2 579.1,495.7 580.6,526.3 581.5,530.1 582.5,583.7 583.8,562.7 585.2,537.8 586.7,514.8 588.2,472.7 589.6,428.3 590.9,457.4 592.4,497.6 594,514.8 595.3,566.3 596.5,543 597.8,553.5 599.3,519.7 600.3,498.5 602,411.7 603.5,458.3 605.6,507 607.1,528.1 608.4,562 609.2,534.5 610.5,549.3 612,528.1 613.5,485.8 614.7,427.6 616.2,475.2 617.7,507 619.4,519.7 621.1,559.9 622.6,553.5 623.6,545.1 624.7,511.2 625.7,500.6 627.4,387.4 628.9,443.5 630.4,496.4 631.6,528.1 633.3,574.7 634.2,559.9 635.3,566.2 636.3,543 637.4,551.4 638.5,528.1 640,401.2 641.6,464.7 643.1,502.8 644.4,490 645.2,507 646.5,549.3 648,553.5 650.1,532.4 651.2,528.1 652.9,386.3 654.3,443.5 655.8,507 657.1,517.6 658.6,564.1 660.7,540.8 662.2,513.3 663.4,507 664.9,412.8 666.4,464.7 667.6,502.6 669,506.6 670,507 671,546.8 672,534.7 673,568.9 674.4,534.7 675.6,500.6 676.5,470.4 677.7,410.1 679.1,440.3 680.5,480.5 681.7,490.5 682.5,482.5 683.7,546.8 685.1,562.9 686.5,544.8 689.1,510.6 690.5,414.1 692.1,460.4 693.7,498.5 695.1,500.6 696.6,556.8 698.2,552.8 699.2,556.8 700.6,520.7 701.8,514.6 702.6,518 703.5,504.7 704.2,510.8 704.7,508.3 705.4,527.7 706.8,492.6 707.8,515.6 708.6,496.3 709.3,490.2 710.2,474.5 711.1,493.8 711.7,487.8 712.6,499.9 713.5,495 714.3,519.2 715.3,485.4 716.3,496.3 717.1,509.5 718.3,486 719.2,502.3 720.4,534.3 721.6,496.3 722.5,508.3 723.5,503.5 724.5,533.1 725.6,519.2 726.8,516.8 727.6,503.5 728.6,520.4 729.6,507.1 730.4,510.8 731.2,518 732.2,508.3 733.2,494.4 734,496.3 735,515.3 736,536.9 736.8,515.3 737.7,490.6 738.5,510.2 739.2,530.4 740,546.5 740.8,530.4 741.5,521.3 742.2,530.4 743.3,544.4 744.6,513.3 745.6,530.4 746.3,544.4 748.1,547.5 749.6,512.3 750.6,530.4 751.9,548.5 753.6,508.7 754.6,528.4 755.6,536.4 756.6,515.3 757.6,526.3 758.6,532.4 759.7,524.3 760.7,520.3 761.7,508.2 762.4,505.2" stroke="#000" stroke-width="1.4" fill="none" stroke-linejoin="round"/><rect x="451.9" y="347.8" width="311.1" height="267.6" fill="none" stroke="#000" stroke-width="1.4"/><text x="451.9" y="632.7" font-size="14" text-anchor="middle">0</text><text x="514.1" y="632.7" font-size="14" text-anchor="middle">100</text><text x="576.3" y="632.7" font-size="14" text-anchor="middle">200</text><text x="638.6" y="632.7" font-size="14" text-anchor="middle">300</text><text x="700.8" y="632.7" font-size="14" text-anchor="middle">400</text><text x="763" y="632.7" font-size="14" text-anchor="middle">500</text><text x="447.1" y="619.4" font-size="14" text-anchor="end">20</text><text x="447.1" y="565.9" font-size="14" text-anchor="end">40</text><text x="447.1" y="512.4" font-size="14" text-anchor="end">60</text><text x="447.1" y="458.8" font-size="14" text-anchor="end">80</text><text x="447.1" y="405.3" font-size="14" text-anchor="end">100</text><text x="447.1" y="351.8" font-size="14" text-anchor="end">120</text><text x="607.5" y="656.3" font-size="14.2" text-anchor="middle">Time (s)</text><text transform="translate(414.4 481) rotate(-90)" font-size="17.3" text-anchor="middle">CBFV (cm.s<tspan baseline-shift="super" font-size="11.5">-1</tspan>)</text><text x="464.9" y="373.8" font-size="15.5" font-weight="bold">D</text></g>
<g><path d="M241.8 948.2v-2.4M241.8 680.1v2.4M254.5 948.2v-1.9M254.5 680.1v1.9M267.1 948.2v-1.9M267.1 680.1v1.9M279.8 948.2v-1.9M279.8 680.1v1.9M292.4 948.2v-1.9M292.4 680.1v1.9M305.1 948.2v-2.4M305.1 680.1v2.4M317.8 948.2v-1.9M317.8 680.1v1.9M330.4 948.2v-1.9M330.4 680.1v1.9M343.1 948.2v-1.9M343.1 680.1v1.9M355.7 948.2v-1.9M355.7 680.1v1.9M368.4 948.2v-2.4M368.4 680.1v2.4M381.1 948.2v-1.9M381.1 680.1v1.9M393.7 948.2v-1.9M393.7 680.1v1.9M406.4 948.2v-1.9M406.4 680.1v1.9M419 948.2v-1.9M419 680.1v1.9M431.7 948.2v-2.4M431.7 680.1v2.4M444.4 948.2v-1.9M444.4 680.1v1.9M457 948.2v-1.9M457 680.1v1.9M469.7 948.2v-1.9M469.7 680.1v1.9M482.3 948.2v-1.9M482.3 680.1v1.9M495 948.2v-2.4M495 680.1v2.4M507.7 948.2v-1.9M507.7 680.1v1.9M520.3 948.2v-1.9M520.3 680.1v1.9M533 948.2v-1.9M533 680.1v1.9M545.6 948.2v-1.9M545.6 680.1v1.9M558.3 948.2v-2.4M558.3 680.1v2.4M241.8 948.2h2.4M558.3 948.2h-2.4M241.8 934.8h1.9M558.3 934.8h-1.9M241.8 921.4h1.9M558.3 921.4h-1.9M241.8 908h1.9M558.3 908h-1.9M241.8 894.6h1.9M558.3 894.6h-1.9M241.8 881.2h2.4M558.3 881.2h-2.4M241.8 867.8h1.9M558.3 867.8h-1.9M241.8 854.4h1.9M558.3 854.4h-1.9M241.8 841h1.9M558.3 841h-1.9M241.8 827.6h1.9M558.3 827.6h-1.9M241.8 814.2h2.4M558.3 814.2h-2.4M241.8 800.7h1.9M558.3 800.7h-1.9M241.8 787.3h1.9M558.3 787.3h-1.9M241.8 773.9h1.9M558.3 773.9h-1.9M241.8 760.5h1.9M558.3 760.5h-1.9M241.8 747.1h2.4M558.3 747.1h-2.4M241.8 733.7h1.9M558.3 733.7h-1.9M241.8 720.3h1.9M558.3 720.3h-1.9M241.8 706.9h1.9M558.3 706.9h-1.9M241.8 693.5h1.9M558.3 693.5h-1.9M241.8 680.1h2.4M558.3 680.1h-2.4" stroke="#222" stroke-width="1.1" fill="none"/><path d="M242.3,719.6 244.2,719.5 246.2,720.1 248.2,720 250.3,721.2 252.4,720.9 254.4,720.1 256.5,720.1 258.6,721.7 260.6,721.2 262.7,720.6 264.5,719.9 266.3,719.6 267.3,717.8 268.9,720.1 269.6,724.3 271.3,723.2 273,723.7 274.7,723.6 276.3,722.7 278,723.3 279.6,722.5 281.3,723.2 282.9,722.3 284.6,722.7 286.2,723.2 287.9,721.7 289.5,722.2 291.6,721.2 293.7,721.2 295.8,721.7 297.8,721.7 299.9,722.3 301.9,721.2 303.3,720.5 303.8,707.7 304.5,878 304.8,881 306.7,884.6 308,882.5 309.8,881 310.3,870 310.7,720.1 312.1,722.1 313.1,729.1 314.1,724 315.1,720.1 316.1,719.1 316.9,722 317.3,872 317.6,874.8 319.6,874 321.7,874.8 322.5,865 323.1,725 324.1,721.1 326.2,730.2 328,727 329.2,718.1 329.8,722 330.1,870 330.4,874.8 332,872.2 335.1,871.9 335.6,865 336.2,735 337.2,730.2 339.2,728 341.2,724.1 341.8,719.1 342.6,722 343.1,872 343.3,876.8 345.4,869.6 346.5,871 347.7,874.8 348.3,860 349,740 349.3,736.2 350.3,726 352.3,722.1 354.3,720.1 355.6,722 356.2,878 356.6,880.4 358.8,880.8 360.7,881 361.1,870 361.6,722 362.3,720.1 364.3,722.1 366.4,728.1 367.2,715 367.8,722 369.3,870 370.2,884.6 371.7,879.9 373.5,884.6 373.9,870 374.2,760 374.4,723.1 375.6,733.2 377,726 378,720.1 379,717 380,708 380.5,720 381.1,885 381.7,888.9 383.7,890 385.1,894 385.9,889 386.5,880 387.1,725 387.7,719.1 388.5,726 390,718 391.6,726 393.1,718.1 393.7,722 394.2,878 394.5,880.9 395.7,880 397.7,882.9 398.5,886.9 399.7,875 400.3,760 400.6,750.3 401.2,722.1 402.2,714.1 403.2,728 404.6,740.2 405.2,726 406.2,730.2 406.6,735 407.2,878 407.8,880.9 409.2,884.9 411.2,888.9 412.2,886.9 412.8,875 413.4,730 413.8,720.1 414.6,734.2 416.2,730.2 418.2,730.2 419.2,720.1 419.8,725 420.3,885 420.7,891 422.7,894 423.9,896 425.3,893 425.9,885 426.1,760 426.3,748.2 426.9,734.2 428.3,731.2 430.3,730.2 431.9,716.1 432.7,722 433.3,888 433.9,893 435.3,890 437.3,894 438.3,892 439.3,885 439.7,720 440,712.1 440.8,726.1 442,720 443.4,728.1 444.8,722.1 445.3,720.5 445.6,725 446.2,884 446.6,886.9 448,892 449.4,890 450.6,892 451.4,885 451.8,745 452,738.2 453,730.2 455.1,730.2 456.1,714.1 457.1,707 457.4,752 457.8,725 458.1,730 458.5,878 458.7,880.9 460.1,883 462.1,886.9 463.5,889 464.1,880 464.4,730 464.7,726.1 465.5,736.2 467.1,734 468.1,718.1 469.5,715.1 469.7,748.2 470.1,730 470.5,735 471,888 471.5,893 472.7,895 474.1,890 475.2,892 476.2,890 476.8,880 477.2,740 477.6,726.1 478.2,735.2 479.6,732 481.2,729 482.2,718.1 482.8,730 483.6,735 484.2,885 484.8,889 486.2,892 487.6,890 489.2,893 489.8,885 490.2,750 490.8,730.2 491.2,735.2 493.2,732.2 495.2,732.3 497.3,732.2 499.3,732.5 501.3,733.2 503.3,733.1 505.3,731.2 507.5,731 508.3,728.1 509.2,731.2 511.2,730.4 513.3,731.2 515,731.1 517.2,731.9 519.4,731.4 519.8,719.2 520.2,744.7 520.8,724.4 522.5,724.4 524.6,723.8 526.6,722.4 528.1,725 529.5,722.1 532.4,724.1 535.3,722.6 538.2,722.4 540,724.1 541.7,722.4 543.5,722 545.2,722.4 547.5,723.2 549.2,722.6 551,723.2 552.8,722.2 554.5,722.6 555.7,721.5 556.3,718 556.8,721.5 558,722.1" stroke="#000" stroke-width="1.4" fill="none" stroke-linejoin="round"/><rect x="241.8" y="680.1" width="316.5" height="268.1" fill="none" stroke="#000" stroke-width="1.4"/><text x="241.8" y="965.5" font-size="14" text-anchor="middle">0</text><text x="305.1" y="965.5" font-size="14" text-anchor="middle">100</text><text x="368.4" y="965.5" font-size="14" text-anchor="middle">200</text><text x="431.7" y="965.5" font-size="14" text-anchor="middle">300</text><text x="495" y="965.5" font-size="14" text-anchor="middle">400</text><text x="558.3" y="965.5" font-size="14" text-anchor="middle">500</text><text x="237" y="952.2" font-size="14" text-anchor="end">20</text><text x="237" y="885.2" font-size="14" text-anchor="end">40</text><text x="237" y="818.2" font-size="14" text-anchor="end">60</text><text x="237" y="751.1" font-size="14" text-anchor="end">80</text><text x="237" y="684.1" font-size="14" text-anchor="end">100</text><text x="400" y="989.1" font-size="14.2" text-anchor="middle">Time (s)</text><text transform="translate(204.3 814.2) rotate(-90)" font-size="17.3" text-anchor="middle">Squat angle (degrees)</text><text x="256.7" y="701.7" font-size="15.5" font-weight="bold">E</text></g>
</svg></body></html>
